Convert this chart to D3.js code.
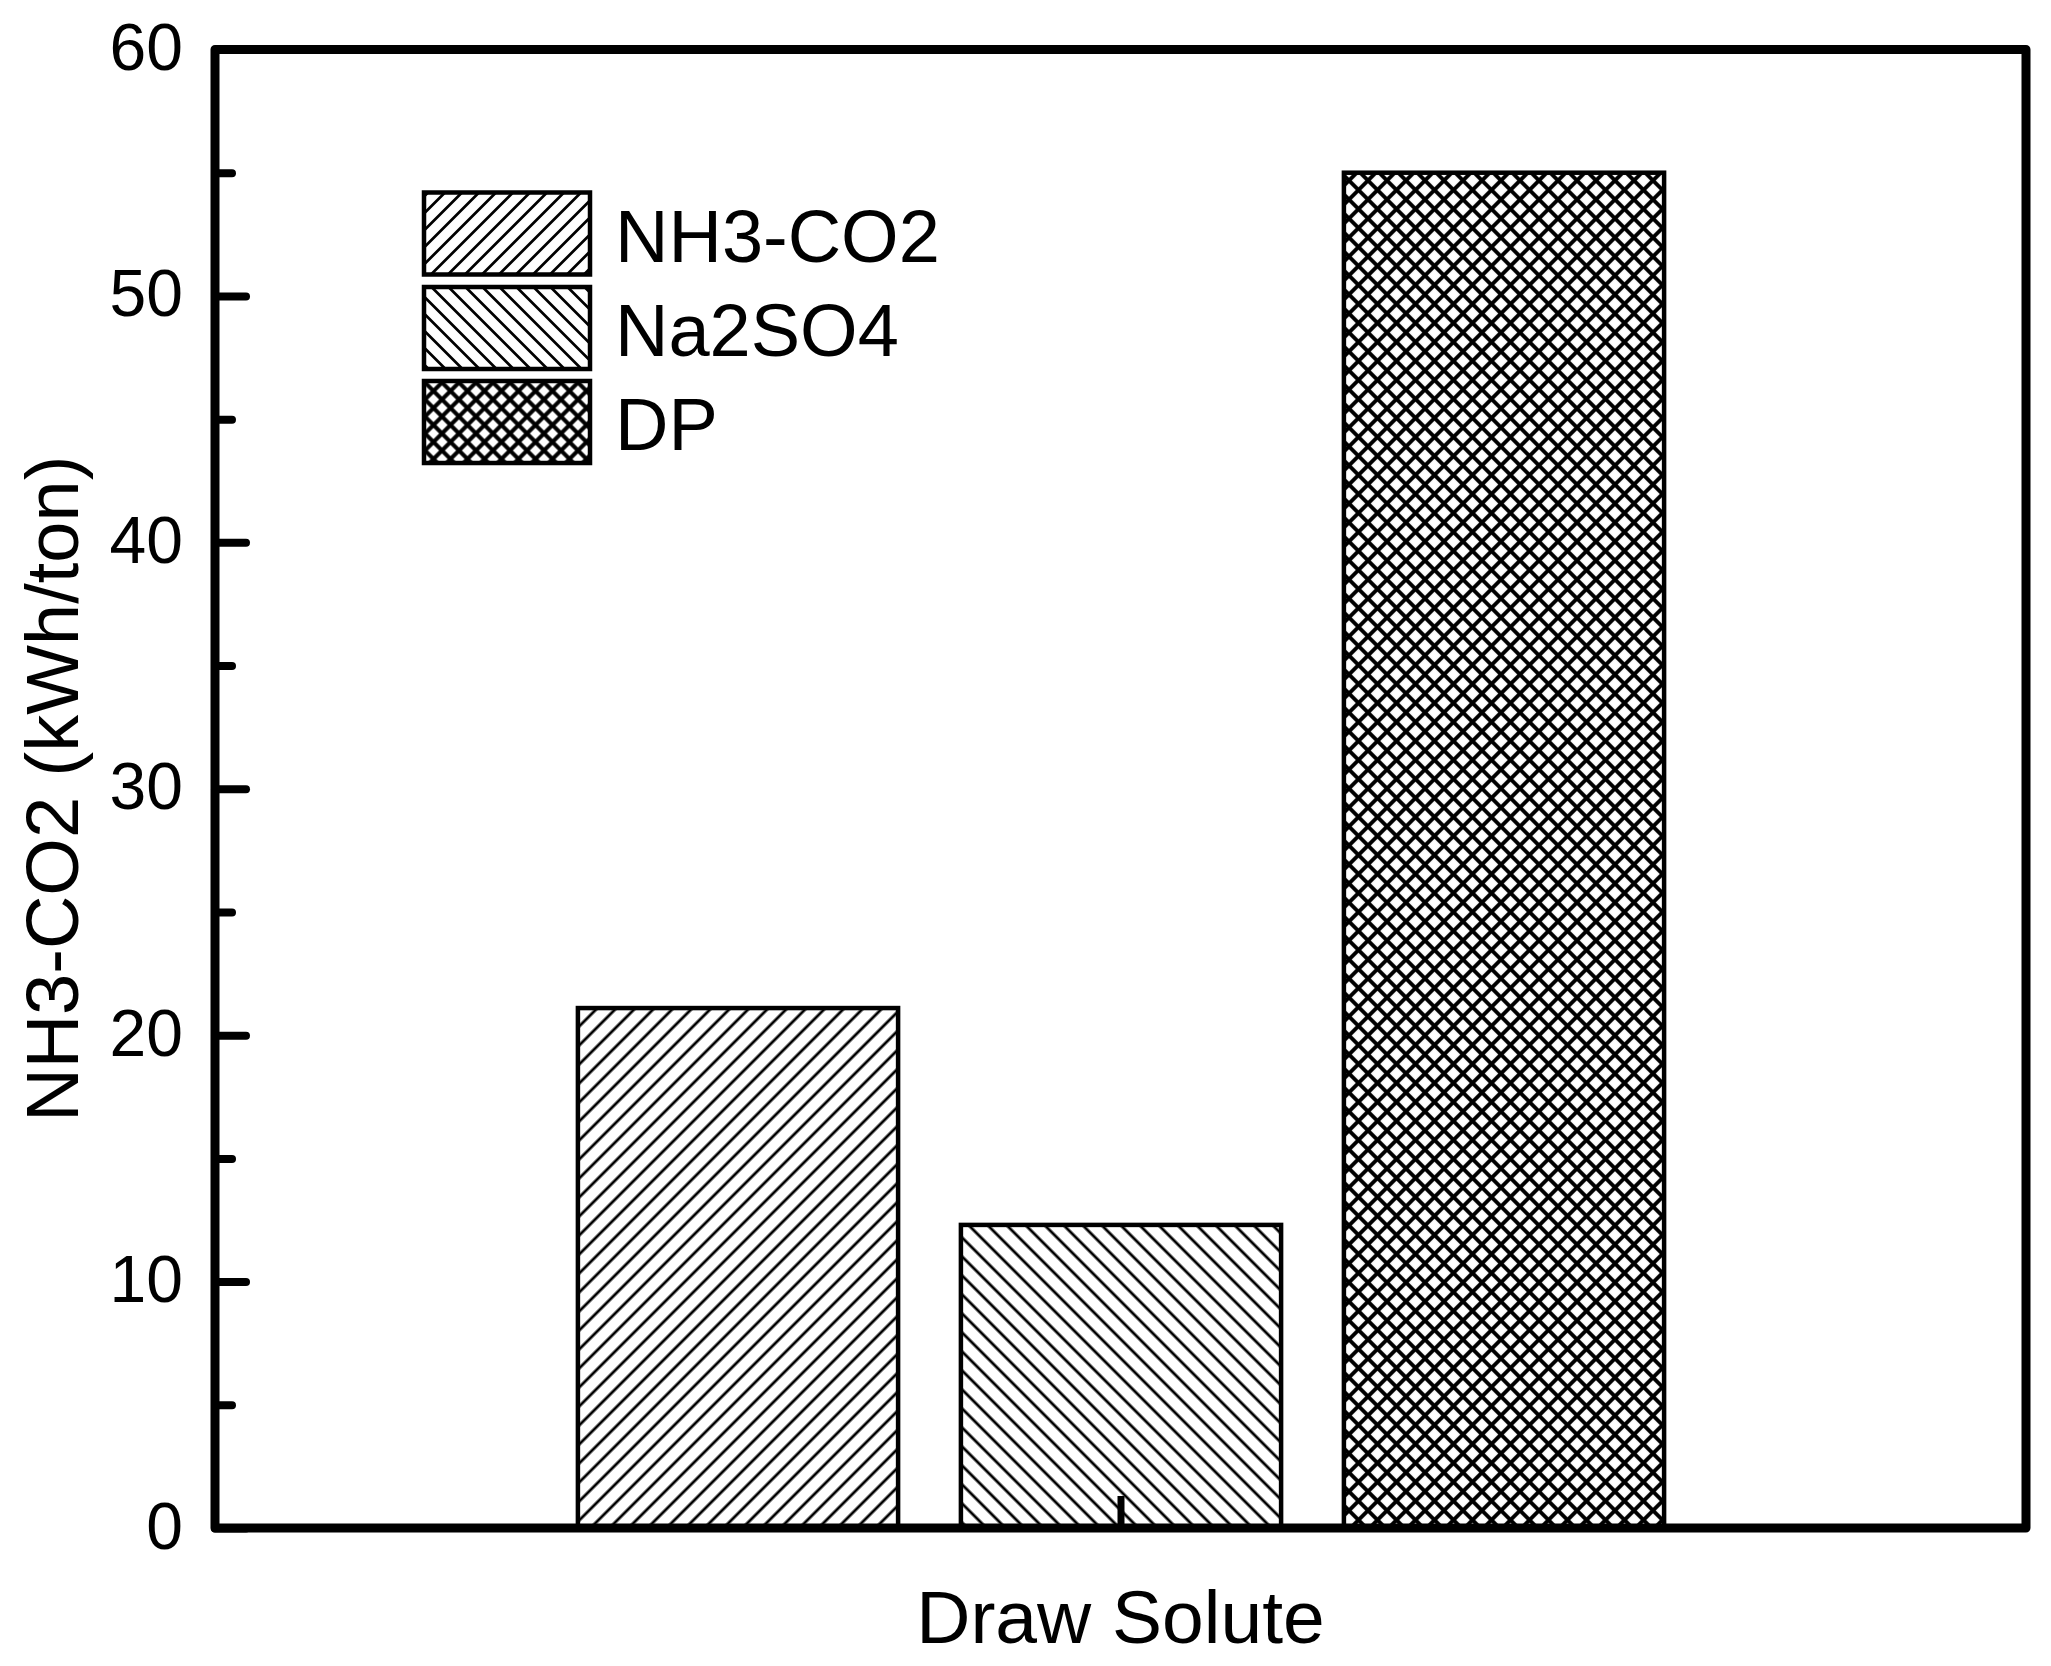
<!DOCTYPE html>
<html>
<head>
<meta charset="utf-8">
<script src="https://cdn.jsdelivr.net/npm/d3@7"></script>
<style>
  html, body { margin: 0; padding: 0; background: #fff; }
  svg { display: block; }
  text { font-family: Arial, "Liberation Sans", sans-serif; fill: #000; }
</style>
</head>
<body>
<div id="chart"></div>
<script>
// ---- data ----
const categories = ["NH3-CO2", "Na2SO4", "DP"];
const values = [21.1, 12.3, 55.0];
const patterns = ["fwd", "back", "cross"];
const yTicks = [0, 10, 20, 30, 40, 50, 60];
const yMinorTicks = [5, 15, 25, 35, 45, 55];
const yLabel = "NH3-CO2 (kWh/ton)";
const xLabel = "Draw Solute";

// ---- layout ----
const W = 2051, H = 1666;
const plot = { left: 215, top: 49.5, right: 2026, bottom: 1528 };

const svg = d3.select("#chart").append("svg")
  .attr("width", W).attr("height", H);

const defs = svg.append("defs");
function makePattern(id, kind, spacing, lw) {
  const s = spacing / Math.SQRT2;
  const p = defs.append("pattern")
    .attr("id", id)
    .attr("patternUnits", "userSpaceOnUse")
    .attr("width", s).attr("height", s)
    .attr("patternTransform", kind === "back" ? "rotate(-45)" : "rotate(45)");
  p.append("rect").attr("width", s).attr("height", s).attr("fill", "#fff");
  p.append("line").attr("x1", s / 2).attr("y1", -1).attr("x2", s / 2).attr("y2", s + 1)
    .attr("stroke", "#000").attr("stroke-width", lw);
  if (kind === "cross") {
    p.append("line").attr("x1", -1).attr("y1", s / 2).attr("x2", s + 1).attr("y2", s / 2)
      .attr("stroke", "#000").attr("stroke-width", lw);
  }
}
makePattern("fwd", "fwd", 19, 2.8);
makePattern("back", "back", 19, 2.8);
makePattern("cross", "cross", 19, 4);
makePattern("fwdL", "fwd", 17, 2.8);
makePattern("backL", "back", 17, 2.8);
makePattern("crossL", "cross", 17, 4);

const y = d3.scaleLinear().domain([0, 60]).range([plot.bottom, plot.top]);
const x = d3.scaleBand().domain(categories)
  .range([546.5, 1695.5]).paddingInner(0.164).paddingOuter(0.082);

// bars
svg.append("g").selectAll("rect")
  .data(categories.map((c, i) => ({ c, v: values[i], p: patterns[i] })))
  .join("rect")
  .attr("x", d => x(d.c))
  .attr("width", x.bandwidth())
  .attr("y", d => y(d.v))
  .attr("height", d => y(0) - y(d.v))
  .attr("fill", d => `url(#${d.p})`)
  .attr("stroke", "#000")
  .attr("stroke-width", 4.5);

// y axis ticks (inward) and labels
const yAxis = d3.axisLeft(y).tickValues(yTicks).tickSize(-31).tickPadding(0);
const gy = svg.append("g").attr("transform", `translate(${plot.left},0)`).call(yAxis);
gy.select(".domain").remove();
gy.selectAll(".tick line").attr("stroke", "#000").attr("stroke-width", 8).attr("stroke-linecap", "round");
gy.selectAll(".tick text")
  .attr("x", -32).attr("dy", null).attr("y", 20)
  .attr("font-size", 66).attr("text-anchor", "end")
  .style("font-family", "Arial, 'Liberation Sans', sans-serif");

const yMinor = d3.axisLeft(y).tickValues(yMinorTicks).tickSize(-17).tickFormat("");
const gym = svg.append("g").attr("transform", `translate(${plot.left},0)`).call(yMinor);
gym.select(".domain").remove();
gym.selectAll(".tick line").attr("stroke", "#000").attr("stroke-width", 8).attr("stroke-linecap", "round");

// x axis center tick (inward)
const xCenter = d3.scalePoint().domain([""]).range([plot.left, plot.right]).padding(0.5);
const xAxis = d3.axisBottom(xCenter).tickSize(-32).tickFormat("");
const gx = svg.append("g").attr("transform", `translate(0,${plot.bottom})`).call(xAxis);
gx.select(".domain").remove();
gx.selectAll(".tick line").attr("stroke", "#000").attr("stroke-width", 7);

// frame
svg.append("rect")
  .attr("x", plot.left).attr("y", plot.top)
  .attr("width", plot.right - plot.left).attr("height", plot.bottom - plot.top)
  .attr("fill", "none").attr("stroke", "#000").attr("stroke-width", 9)
  .attr("stroke-linejoin", "round");

// axis titles
svg.append("text")
  .attr("transform", `translate(78,${(plot.top + plot.bottom) / 2}) rotate(-90)`)
  .attr("text-anchor", "middle")
  .attr("font-size", 74)
  .text(yLabel);

svg.append("text")
  .attr("x", (plot.left + plot.right) / 2).attr("y", 1643)
  .attr("text-anchor", "middle")
  .attr("font-size", 75)
  .text(xLabel);

// legend
const legendPats = ["fwdL", "backL", "crossL"];
const legTop = [192.5, 287, 381];
const lg = svg.append("g");
categories.forEach((c, i) => {
  lg.append("rect")
    .attr("x", 424).attr("y", legTop[i])
    .attr("width", 166).attr("height", 82)
    .attr("fill", `url(#${legendPats[i]})`)
    .attr("stroke", "#000").attr("stroke-width", 4.5);
  lg.append("text")
    .attr("x", 615).attr("y", legTop[i] + 41 + 28)
    .attr("font-size", 74)
    .text(c);
});
</script>
</body>
</html>
